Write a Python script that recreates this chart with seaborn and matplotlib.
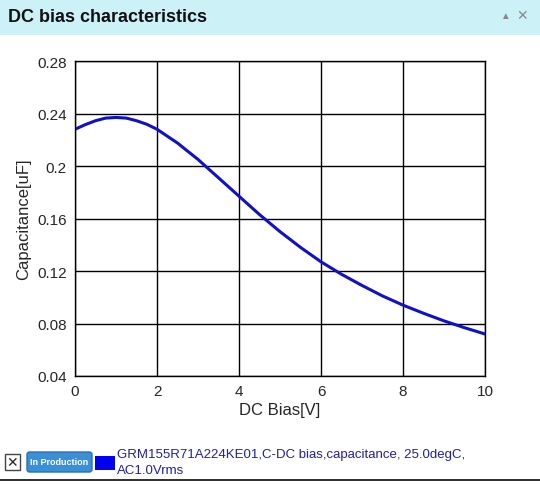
import matplotlib
matplotlib.use("Agg")
import matplotlib.pyplot as plt
import seaborn as sns
import pandas as pd
from matplotlib.patches import Rectangle, FancyBboxPatch

bias_v = [0, 0.25, 0.5, 0.75, 1, 1.25, 1.5, 1.75, 2, 2.5, 3, 3.5, 4, 4.5, 5, 5.5, 6, 6.5, 7, 7.5, 8, 8.5, 9, 9.5, 10]
cap_uf = [0.228, 0.2315, 0.2345, 0.2365, 0.237, 0.2365, 0.2345, 0.2318, 0.228, 0.2175, 0.205, 0.191, 0.177, 0.163, 0.150, 0.138, 0.127, 0.1175, 0.109, 0.101, 0.094, 0.0878, 0.082, 0.0768, 0.072]
yticks = [0.04, 0.08, 0.12, 0.16, 0.2, 0.24, 0.28]
ytick_labels = ["0.04", "0.08", "0.12", "0.16", "0.2", "0.24", "0.28"]

sns.set_style("white")
plt.rcParams['font.family'] = ['Liberation Sans', 'DejaVu Sans']

W, H = 540, 489
fig = plt.figure(figsize=(W/100, H/100), dpi=100)
fig.patch.set_facecolor("white")
fig.add_artist(Rectangle((0, 1-36/H), 1, 36/H, transform=fig.transFigure, facecolor="#ccf2f7", edgecolor="none"))
fig.text(8/W, 1-18/H, "DC bias characteristics", fontsize=13, fontweight="bold", va="center", color="#111111")
fig.text(500/W, 1-16/H, "▲", fontsize=7, color="#888888", va="center")
fig.text(516/W, 1-16/H, "✕", fontsize=10, color="#888888", va="center", fontweight="bold")

ax = fig.add_axes([75/W, 1-377/H, 410/W, 315/H])
df = pd.DataFrame({"x": bias_v, "y": cap_uf})
sns.lineplot(data=df, x="x", y="y", ax=ax, color="#1010c8", linewidth=2.2)
ax.set_xlim(0, 10)
ax.set_ylim(0.04, 0.28)
ax.set_xticks(range(0, 11, 2))
ax.set_yticks(yticks)
ax.set_yticklabels(ytick_labels)
ax.grid(True, color="black", linewidth=1)
for s in ax.spines.values():
    s.set_color("black"); s.set_linewidth(1)
ax.tick_params(labelsize=11, length=0, pad=6)
ax.set_xlabel("DC Bias[V]", fontsize=12, labelpad=3)
ax.set_ylabel("Capacitance[uF]", fontsize=12, labelpad=4)

fig.add_artist(Rectangle((5/W, 1-471/H), 15/W, 16/H, transform=fig.transFigure, facecolor="white", edgecolor="#444444", lw=1))
fig.text(12.5/W, 1-463/H, "✕", fontsize=10, ha="center", va="center")
fig.add_artist(FancyBboxPatch((27/W, 1-473/H), 65/W, 20/H, boxstyle="round,pad=0,rounding_size=0.005", transform=fig.transFigure, facecolor="#3a8fd6", edgecolor="#2a70b0"))
fig.text(59.5/W, 1-463/H, "In Production", fontsize=6.5, color="white", ha="center", va="center", fontweight="bold")
fig.add_artist(Rectangle((95/W, 1-471/H), 20/W, 14/H, transform=fig.transFigure, facecolor="#0000ee", edgecolor="none"))
fig.text(117/W, 1-463/H, "GRM155R71A224KE01,C-DC bias,capacitance, 25.0degC,\nAC1.0Vrms", fontsize=9.5, color="#2020a0", va="center", linespacing=1.35)
fig.add_artist(Rectangle((0, 1-482/H), 1, 2/H, transform=fig.transFigure, facecolor="#333333", edgecolor="none"))

fig.savefig("out.png", dpi=100)
